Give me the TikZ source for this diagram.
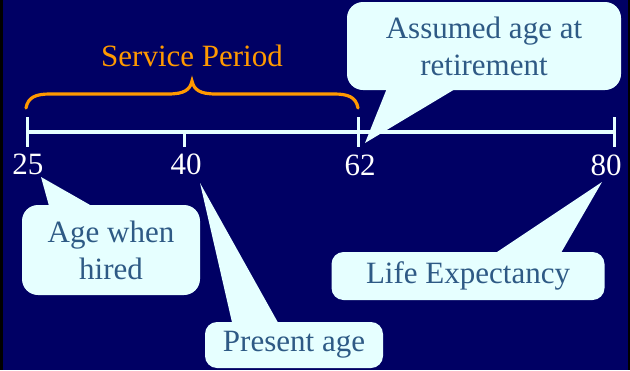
\documentclass[tikz,border=0pt]{standalone}
\usepackage{fontspec}
\setmainfont{Liberation Serif}
\definecolor{bgnavy}{HTML}{000064}
\definecolor{callfill}{HTML}{E6FFFF}
\definecolor{calltext}{HTML}{2E5A85}
\definecolor{bracecol}{HTML}{FF9900}
\definecolor{linecol}{HTML}{E6FFFF}
\begin{document}
\begin{tikzpicture}[x=1pt,y=-1pt,
  bigfont/.style={font=\fontsize{31}{37}\selectfont},
  callout/.style={fill=callfill, rounded corners=16pt, text=calltext, align=center,
    bigfont, inner sep=0pt},
  pointer/.style={fill=callfill},
  axis/.style={draw=linecol, line width=4pt},
  tickmark/.style={draw=linecol, line width=3pt},
  agelabel/.style={text=white, bigfont, inner sep=0pt},
  bracestyle/.style={draw=bracecol, line width=3.2pt, line cap=round}]
% background
\fill[bgnavy] (0,0) rectangle (630,370);
\fill[black] (0,0) rectangle (3,370);
\fill[black] (628,0) rectangle (630,370);
\useasboundingbox (0,0) rectangle (630,370);

% timeline
\coordinate (a25) at (27,132);
\coordinate (a40) at (184,132);
\coordinate (a62) at (358,132);
\coordinate (a80) at (614,132);
\draw[axis] (a25) -- (a80);
\draw[tickmark] (27,117) -- (27,147);
\draw[tickmark] (184,132) -- (184,147);
\draw[tickmark] (358,117) -- (358,147);
\draw[tickmark] (614,117) -- (614,147);
\node[agelabel] (l25) at (28,164) {25};
\node[agelabel] (l40) at (186,164) {40};
\node[agelabel] (l62) at (360,165) {62};
\node[agelabel] (l80) at (606,165) {80};

% brace
\draw[bracestyle] (26,108) .. controls (28,97) and (36,94) .. (50,94)
  -- (168,94) .. controls (184,94) and (190,90) .. (192,81)
  .. controls (194,90) and (200,94) .. (216,94)
  -- (334,94) .. controls (348,94) and (356,97) .. (358,108);
\node[text=bracecol, bigfont, inner sep=0pt] (sp) at (192,56) {Service Period};

% tips
\coordinate (tipret) at (365,143);
\coordinate (tiphired) at (41,177);
\coordinate (tippres) at (200,183);
\coordinate (tiplife) at (602,182);

% callouts
\node[callout, minimum width=274pt, minimum height=88pt] (ret) at (484,46)
  {Assumed age at\\retirement};
\fill[pointer] (tipret) -- ([xshift=41pt,yshift=4pt]ret.south west) -- ([xshift=113pt,yshift=4pt]ret.south west) -- cycle;

\node[callout, minimum width=178pt, minimum height=90pt] (hired) at (111,250)
  {Age when\\hired};
\fill[pointer] (tiphired) -- ([xshift=28pt,yshift=-4pt]hired.north west) -- ([xshift=75pt,yshift=-4pt]hired.north west) -- cycle;

\node[callout, minimum width=178pt, minimum height=46pt, rounded corners=12pt] (pres) at (294,345)
  {Present age};
\fill[pointer] (tippres) -- ([xshift=28pt,yshift=-4pt]pres.north west) -- ([xshift=75pt,yshift=-4pt]pres.north west) -- cycle;

\node[callout, minimum width=273pt, minimum height=48pt, rounded corners=12pt] (life) at (468,276)
  {Life Expectancy};
\fill[pointer] (tiplife) -- ([xshift=160pt,yshift=-4pt]life.north west) -- ([xshift=228pt,yshift=-4pt]life.north west) -- cycle;
\end{tikzpicture}
\end{document}
